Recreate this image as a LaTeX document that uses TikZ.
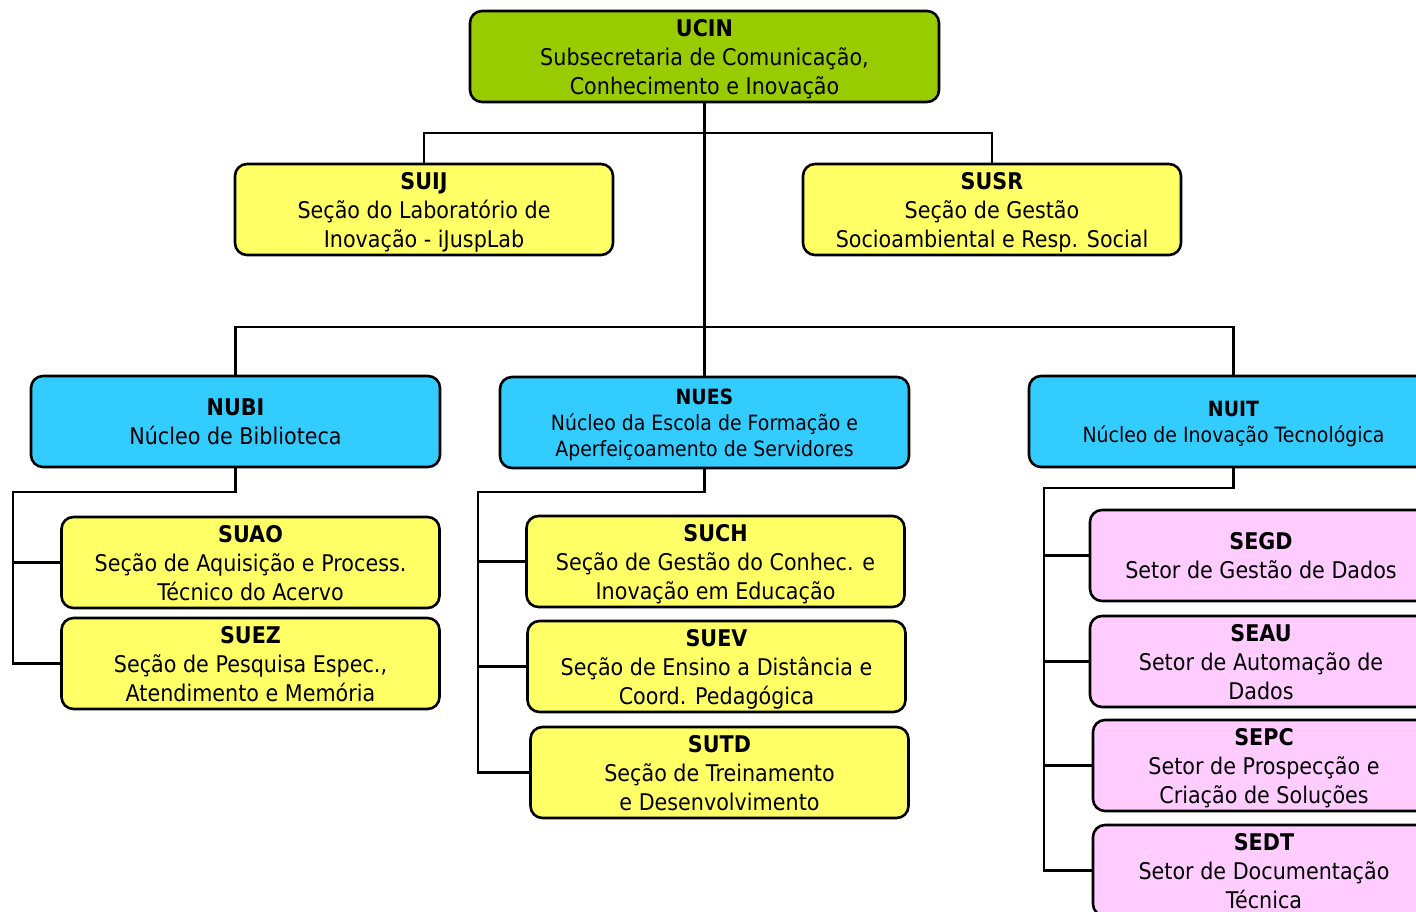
\documentclass[tikz,border=0pt]{standalone}
\usepackage{fontspec}
\setmainfont[FakeStretch=0.9]{DejaVu Sans}
\definecolor{cgreen}{HTML}{99CC00}
\definecolor{cyellow}{HTML}{FFFF66}
\definecolor{ccyan}{HTML}{33CCFF}
\definecolor{cpink}{HTML}{FFCCFF}
\tikzset{
  box/.style={draw=black, line width=2.6pt, rounded corners=12pt, inner sep=0pt, align=center,
    font=\fontsize{23}{29}\selectfont, text depth=0pt},
  gbox/.style={box, fill=cgreen, minimum width=469, minimum height=91},
  ybox/.style={box, fill=cyellow, minimum width=378, minimum height=91},
  cbox/.style={box, fill=ccyan, minimum width=409, minimum height=91},
  pbox/.style={box, fill=cpink, minimum width=342, minimum height=91},
  smalltxt/.style={font=\fontsize{21}{26}\selectfont},
  conn/.style={draw=black, line width=2.2pt},
}
\begin{document}
\begin{tikzpicture}[x=1pt, y=-1pt]
\useasboundingbox (0,0) rectangle (1416,912);
\clip (0,0) rectangle (1416,912);
% nodes
\node[gbox] (ucin) at (704.5,56.5) {\textbf{UCIN}\\Subsecretaria de Comunicação,\\Conhecimento e Inovação};
\node[ybox] (suij) at (424,209.5) {\textbf{SUIJ}\\Seção do Laboratório de\\Inovação - iJuspLab};
\node[ybox] (susr) at (992,209.5) {\textbf{SUSR}\\Seção de Gestão\\Socioambiental e Resp. Social};
\node[cbox] (nubi) at (235.5,421.5) {\textbf{NUBI}\\Núcleo de Biblioteca};
\node[cbox, smalltxt] (nues) at (704.5,422.5) {\textbf{NUES}\\Núcleo da Escola de Formação e\\Aperfeiçoamento de Servidores};
\node[cbox, smalltxt] (nuit) at (1233.5,421.5) {\textbf{NUIT}\\Núcleo de Inovação Tecnológica};
\node[ybox] (suao) at (250.5,562.5) {\textbf{SUAO}\\Seção de Aquisição e Process.\\Técnico do Acervo};
\node[ybox] (suez) at (250.5,663.5) {\textbf{SUEZ}\\Seção de Pesquisa Espec.,\\Atendimento e Memória};
\node[ybox] (such) at (715.5,561.5) {\textbf{SUCH}\\Seção de Gestão do Conhec. e\\Inovação em Educação};
\node[ybox] (suev) at (716.5,666.5) {\textbf{SUEV}\\Seção de Ensino a Distância e\\Coord. Pedagógica};
\node[ybox] (sutd) at (719.5,772.5) {\textbf{SUTD}\\Seção de Treinamento\\e Desenvolvimento};
\node[pbox] (segd) at (1261,555.5) {\textbf{SEGD}\\Setor de Gestão de Dados};
\node[pbox] (seau) at (1261,661.5) {\textbf{SEAU}\\Setor de Automação de\\Dados};
\node[pbox] (sepc) at (1264,765.5) {\textbf{SEPC}\\Setor de Prospecção e\\Criação de Soluções};
\node[pbox] (sedt) at (1264,870.5) {\textbf{SEDT}\\Setor de Documentação\\Técnica};
% junctions
\coordinate (bus1) at (704.5,133);
\coordinate (bus2) at (704.5,327);
\coordinate (nubiL) at (13,492);
\coordinate (nuesL) at (478,492);
\coordinate (nuitL) at (1044,488);
% connectors
\draw[conn] (ucin.south) -- (bus2);
\draw[conn] (suij.north) |- (bus1);
\draw[conn] (susr.north) |- (bus1);
\draw[conn] (nubi.north) |- (bus2);
\draw[conn] (nues.north) -- (bus2);
\draw[conn] (nuit.north) |- (bus2);
\draw[conn] (nubi.south) |- (nubiL) -- (nubiL |- suez.west) -- (suez.west);
\draw[conn] (suao.west) -- (nubiL |- suao.west);
\draw[conn] (nues.south) |- (nuesL) -- (nuesL |- sutd.west) -- (sutd.west);
\draw[conn] (such.west) -- (nuesL |- such.west);
\draw[conn] (suev.west) -- (nuesL |- suev.west);
\draw[conn] (nuit.south) |- (nuitL) -- (nuitL |- sedt.west) -- (sedt.west);
\draw[conn] (segd.west) -- (nuitL |- segd.west);
\draw[conn] (seau.west) -- (nuitL |- seau.west);
\draw[conn] (sepc.west) -- (nuitL |- sepc.west);
\end{tikzpicture}
\end{document}
